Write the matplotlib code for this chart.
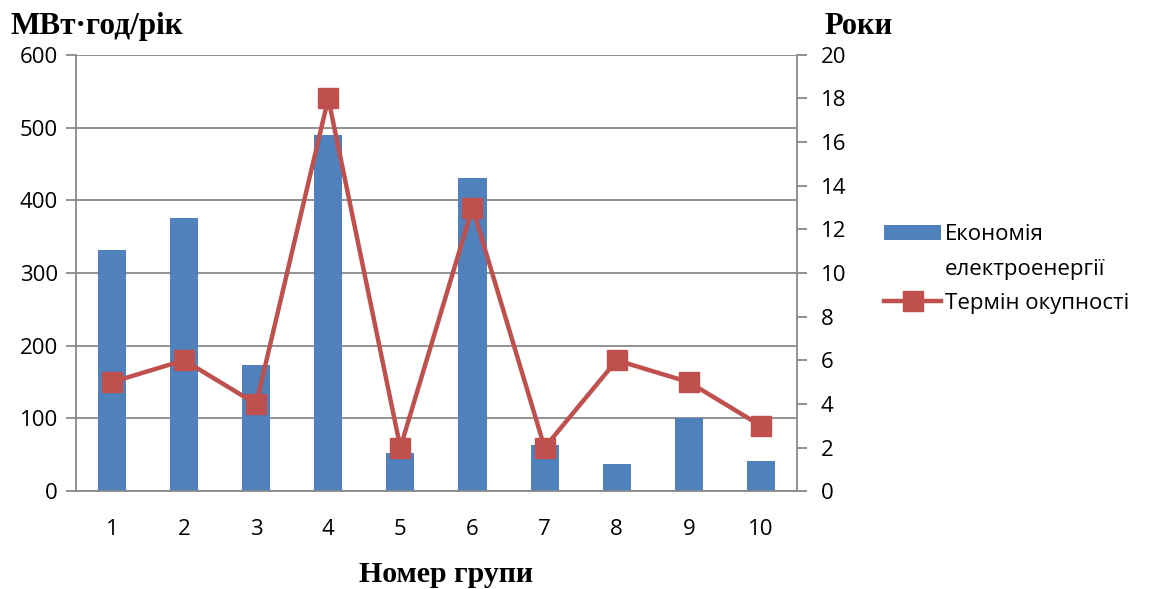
import matplotlib.pyplot as plt
from matplotlib.patches import Rectangle
import numpy as np

# data
groups = [1, 2, 3, 4, 5, 6, 7, 8, 9, 10]
savings = [332, 375, 173, 490, 53, 431, 63, 37, 101, 41]   # МВт·год/рік
payback = [5, 6, 4, 18, 2, 13, 2, 6, 5, 3]                  # роки

bar_color = "#4F81BD"
line_color = "#C0504D"
grid_color = "#898989"

plt.rcParams['font.family'] = ['Open Sans', 'DejaVu Sans']

fig = plt.figure(figsize=(11.5, 5.89), dpi=100)
ax = fig.add_axes([0.066, 0.166, 0.627, 0.741])
ax2 = ax.twinx()

x = np.arange(len(groups))
bars = ax.bar(x, savings, width=0.39, color=bar_color, zorder=2)
line, = ax2.plot(x, payback, color=line_color, lw=3.2, marker='s', markersize=14, zorder=3)

ax.set_xlim(-0.5, len(groups) - 0.5)
ax.set_ylim(0, 600)
ax.set_yticks(range(0, 601, 100))
ax2.set_ylim(0, 20)
ax2.set_yticks(range(0, 21, 2))
ax.set_xticks(x, groups)

# grid and spines like the office chart
ax.yaxis.grid(True, color=grid_color, lw=1.3, zorder=0)
ax.set_axisbelow(True)
for a in (ax, ax2):
    for s in a.spines.values():
        s.set_visible(False)
ax.spines['left'].set_visible(True)
ax.spines['left'].set_color(grid_color)
ax.spines['left'].set_linewidth(1.3)
ax2.spines['right'].set_visible(True)
ax2.spines['right'].set_color(grid_color)
ax2.spines['right'].set_linewidth(1.3)
ax.spines['bottom'].set_visible(True)
ax.spines['bottom'].set_color(grid_color)
ax.spines['bottom'].set_linewidth(1.3)

ax.tick_params(axis='y', length=7, color=grid_color, width=1.3, labelsize=16, pad=6)
ax2.tick_params(axis='y', length=7, color=grid_color, width=1.3, labelsize=16, pad=10)
ax.tick_params(axis='x', length=0, labelsize=16, pad=20)

# axis titles
fig.text(0.009, 0.955, "МВт·год/рік", family='Liberation Serif', fontweight='bold',
         fontsize=22.5, ha='left', va='center')
fig.text(0.717, 0.955, "Роки", family='Liberation Serif', fontweight='bold',
         fontsize=22, ha='left', va='center')
fig.text(0.388, 0.025, "Номер групи", family='Liberation Serif', fontweight='bold',
         fontsize=21.5, ha='center', va='center')

# legend: bar label wraps onto a second line, patch stays on the first
blank = Rectangle((0, 0), 1, 1, visible=False)
leg = fig.legend([bars, blank, line],
                 ["Економія", "електроенергії", "Термін окупності"],
                 loc='center left', bbox_to_anchor=(0.751, 0.543),
                 frameon=False, fontsize=16, handlelength=2.6, handletextpad=0.15,
                 labelspacing=0.6)

plt.savefig("out.png", dpi=100)
